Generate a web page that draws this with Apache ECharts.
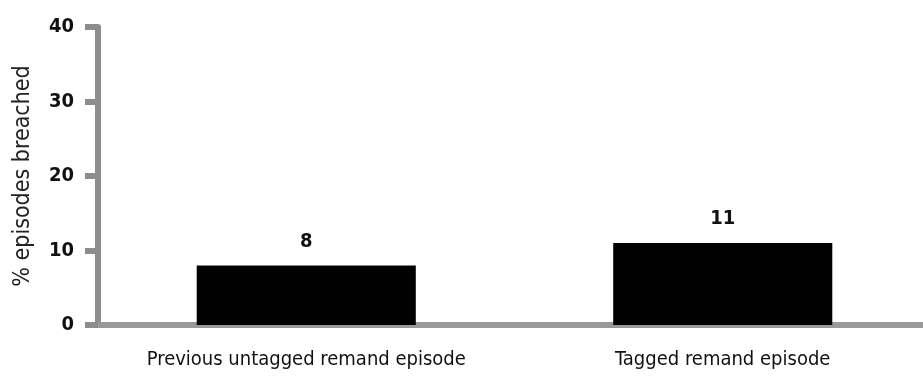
<!DOCTYPE html>
<html>
<head>
<meta charset="utf-8">
<script src="https://cdn.jsdelivr.net/npm/echarts@6/dist/echarts.min.js"></script>
<style>
  html, body { margin: 0; padding: 0; background: #fff; overflow: hidden; }
  /* canvas is a little wider than the window so the baseline runs off the right edge */
  #chart { width: 931px; height: 381px; }
</style>
</head>
<body>
<div id="chart"></div>
<script>
// Share of remand episodes breached, by tagging status
const categories = ['Previous untagged remand episode', 'Tagged remand episode'];
const breachedPct = [8, 11];
const yTicks = { min: 0, max: 40, interval: 10 };
const yAxisTitle = '% episodes breached';

const FONT = '"Liberation Sans Narrow", "Arial Narrow", "DejaVu Sans Condensed", sans-serif';

const chart = echarts.init(document.getElementById('chart'), null, { renderer: 'canvas' });
chart.setOption({
  animation: false,
  backgroundColor: '#ffffff',
  grid: { left: 98, right: 0, top: 27, bottom: 56, containLabel: false },
  xAxis: {
    type: 'category',
    data: categories,
    axisLine: { show: true, lineStyle: { color: '#999999', width: 6 } },
    axisTick: { show: false },
    axisLabel: { interval: 0, margin: 25, color: '#111', fontFamily: FONT, fontSize: 20 },
    splitLine: { show: false }
  },
  yAxis: {
    type: 'value',
    min: yTicks.min,
    max: yTicks.max,
    interval: yTicks.interval,
    name: yAxisTitle,
    nameLocation: 'middle',
    nameRotate: 90,
    nameGap: 63,
    nameTextStyle: { color: '#222', fontFamily: FONT, fontSize: 23 },
    axisLine: { show: true, lineStyle: { color: '#8c8c8c', width: 6 } },
    axisTick: { show: true, inside: false, length: 13, lineStyle: { color: '#8c8c8c', width: 6 } },
    axisLabel: { margin: 24, color: '#111', fontFamily: FONT, fontSize: 20, fontWeight: 'bold' },
    splitLine: { show: false }
  },
  series: [{
    type: 'bar',
    data: breachedPct,
    barWidth: '52.6%',
    itemStyle: { color: '#000000' },
    label: {
      show: true,
      position: 'top',
      distance: 14,
      color: '#111',
      fontFamily: FONT,
      fontSize: 20,
      fontWeight: 'bold'
    }
  }]
});
</script>
</body>
</html>
